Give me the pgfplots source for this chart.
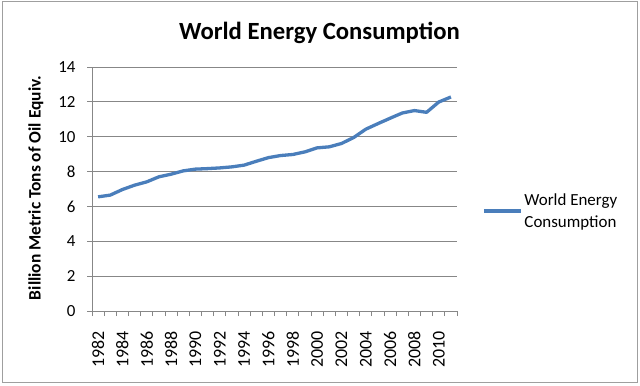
\documentclass[border=0pt]{standalone}
\usepackage{pgfplots}
\pgfplotsset{compat=1.18}
\usepackage{fontspec}
\setmainfont{Carlito}
\definecolor{serblue}{HTML}{4A7EBB}
\definecolor{gridgray}{HTML}{878787}
\begin{document}
\begin{tikzpicture}[x=1bp,y=1bp]
\useasboundingbox (0,0) rectangle (640,385);
\draw[gridgray!80, line width=1bp] (2,3) rectangle (637,383);
\node[font=\bfseries\fontsize{24.8}{28}\selectfont] at (319.5,352) {World Energy Consumption};
\node[font=\bfseries\fontsize{17.5}{20}\selectfont, rotate=90] at (36,197) {Billion Metric Tons of Oil Equiv.};
\begin{axis}[
  at={(92bp,74bp)}, anchor=south west,
  scale only axis, width=365bp, height=244bp,
  xmin=-0.5, xmax=29.5, ymin=0, ymax=14,
  axis lines=left, axis line style={-, draw=gridgray, line width=0.8bp},
  xtick={0,2,...,28},
  xticklabels={1982,1984,1986,1988,1990,1992,1994,1996,1998,2000,2002,2004,2006,2008,2010},
  minor xtick={-0.5,0.5,...,29.5},
  x tick label style={rotate=90, anchor=east, xshift=-12bp, font=\fontsize{18}{20}\selectfont},
  major x tick style={draw=none},
  minor x tick style={draw=gridgray, line width=0.8bp},
  ytick={0,2,...,14},
  y tick style={draw=gridgray, line width=0.8bp},
  y tick label style={xshift=-8bp, font=\fontsize{17}{19}\selectfont},
  tick align=outside, major tick length=5bp, minor tick length=5bp,
  ymajorgrids, grid style={draw=gridgray, line width=0.8bp},
  /pgf/number format/assume math mode=true,
  clip=false,
  legend style={at={(rel axis cs:1,0.41)}, anchor=west, draw=none, fill=none,
    xshift=22bp, font=\fontsize{17}{22}\selectfont, cells={align=left}},
  legend image code/.code={\draw[#1] (0bp,0bp) -- (37bp,0bp);},
]
\addplot[serblue, line width=3.3bp, line join=round] coordinates {
(0,6.55) (1,6.65) (2,6.97) (3,7.22) (4,7.41) (5,7.70) (6,7.85) (7,8.04) (8,8.14) (9,8.17)
(10,8.21) (11,8.27) (12,8.37) (13,8.59) (14,8.80) (15,8.92) (16,8.98) (17,9.13) (18,9.36) (19,9.42)
(20,9.61) (21,9.95) (22,10.43) (23,10.75) (24,11.06) (25,11.36) (26,11.50) (27,11.40) (28,11.99) (29,12.28)
};
\addlegendentry{World Energy\\Consumption}
\end{axis}
\end{tikzpicture}
\end{document}
